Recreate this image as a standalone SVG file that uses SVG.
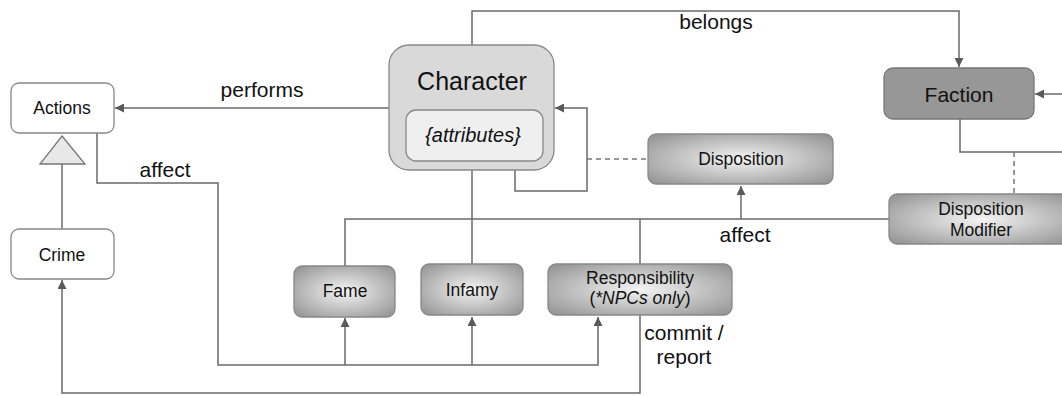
<svg xmlns="http://www.w3.org/2000/svg" width="1062" height="396" viewBox="0 0 1062 396">
<style>
text{font-family:"Liberation Sans",Arial,sans-serif;fill:#111;text-anchor:middle}
.lbl{font-size:21px}
.nd{font-size:17.5px}
.ln{fill:none;stroke:#6a6a6a;stroke-width:1.5}
.dash{fill:none;stroke:#777;stroke-width:1.5;stroke-dasharray:5,4}
.plain{fill:#fff;stroke:#888;stroke-width:1.3}
.grad{fill:url(#g);stroke:#888;stroke-width:1.3}
</style>
<defs>
<radialGradient id="g" cx="50%" cy="50%" r="65%">
<stop offset="0" stop-color="#f4f4f4"/>
<stop offset="1" stop-color="#979797"/>
</radialGradient>
<marker id="a" viewBox="0 0 10 10" refX="10" refY="5" markerWidth="12" markerHeight="9" markerUnits="userSpaceOnUse" orient="auto">
<path d="M0,0 L10,5 L0,10 z" fill="#5a5a5a"/>
</marker>
</defs>
<g id="connectors">
<path class="ln" d="M390,108 H115" marker-end="url(#a)"/>
<path class="ln" d="M472,45 V11 H959 V67" marker-end="url(#a)"/>
<path class="ln" d="M1062,94 H1035" marker-end="url(#a)"/>
<path class="ln" d="M960,119 V152 H1062"/>
<path class="dash" d="M1014,152 V194"/>
<path class="ln" d="M515,170 V191 H587 V108 H555" marker-end="url(#a)"/>
<path class="dash" d="M587,159 H648"/>
<path class="ln" d="M472,170 V219"/>
<path class="ln" d="M345,266 V219 H889"/>
<path class="ln" d="M472,219 V264"/>
<path class="ln" d="M640,219 V264"/>
<path class="ln" d="M741,219 V186" marker-end="url(#a)"/>
<path class="ln" d="M97,133 V183 H218 V365 H598 V317" marker-end="url(#a)"/>
<path class="ln" d="M345,365 V318" marker-end="url(#a)"/>
<path class="ln" d="M472,365 V317" marker-end="url(#a)"/>
<path class="ln" d="M640,315 V393 H62 V280" marker-end="url(#a)"/>
<path class="ln" d="M62,164 V229"/>
<path d="M62,136 L85,164 L40,164 z" fill="#e8e8e8" stroke="#777" stroke-width="1.3"/>
<text class="lbl" x="262" y="97">performs</text>
<text class="lbl" x="716" y="29">belongs</text>
<text class="lbl" x="165" y="177">affect</text>
<text class="lbl" x="745" y="242">affect</text>
<text class="lbl" x="684" y="340">commit /</text>
<text class="lbl" x="684" y="364">report</text>
</g>
<g id="actions">
<rect class="plain" x="11" y="83" width="103" height="50" rx="8"/>
<text class="nd" x="62" y="114">Actions</text>
</g>
<g id="crime">
<rect class="plain" x="11" y="229" width="103" height="50" rx="8"/>
<text class="nd" x="62" y="261">Crime</text>
</g>
<g id="character">
<rect x="389" y="45" width="165" height="125" rx="20" fill="#d9d9d9" stroke="#888" stroke-width="1.3"/>
<text x="472" y="90" style="font-size:25px">Character</text>
<rect x="406" y="110" width="137" height="51" rx="10" fill="#efefef" stroke="#888" stroke-width="1.3"/>
<text x="473" y="142" style="font-size:20px;font-style:italic">{attributes}</text>
</g>
<g id="disposition">
<rect class="grad" x="648" y="134" width="185" height="50" rx="8"/>
<text class="nd" x="741" y="165">Disposition</text>
</g>
<g id="faction">
<rect x="884" y="68" width="150" height="51" rx="9" fill="#979797" stroke="#777" stroke-width="1.3"/>
<text x="959" y="102" style="font-size:21px">Faction</text>
</g>
<g id="disposition-modifier">
<rect class="grad" x="889" y="194" width="185" height="50" rx="8"/>
<text class="nd" x="981" y="215">Disposition</text>
<text class="nd" x="981" y="236">Modifier</text>
</g>
<g id="fame">
<rect class="grad" x="294" y="266" width="101" height="51" rx="8"/>
<text class="nd" x="345" y="297">Fame</text>
</g>
<g id="infamy">
<rect class="grad" x="421" y="264" width="102" height="51" rx="8"/>
<text class="nd" x="472" y="296">Infamy</text>
</g>
<g id="responsibility">
<rect class="grad" x="548" y="264" width="184" height="51" rx="8"/>
<text class="nd" x="640" y="284">Responsibility</text>
<text class="nd" x="640" y="304">(<tspan font-style="italic">*NPCs only</tspan>)</text>
</g>
</svg>
